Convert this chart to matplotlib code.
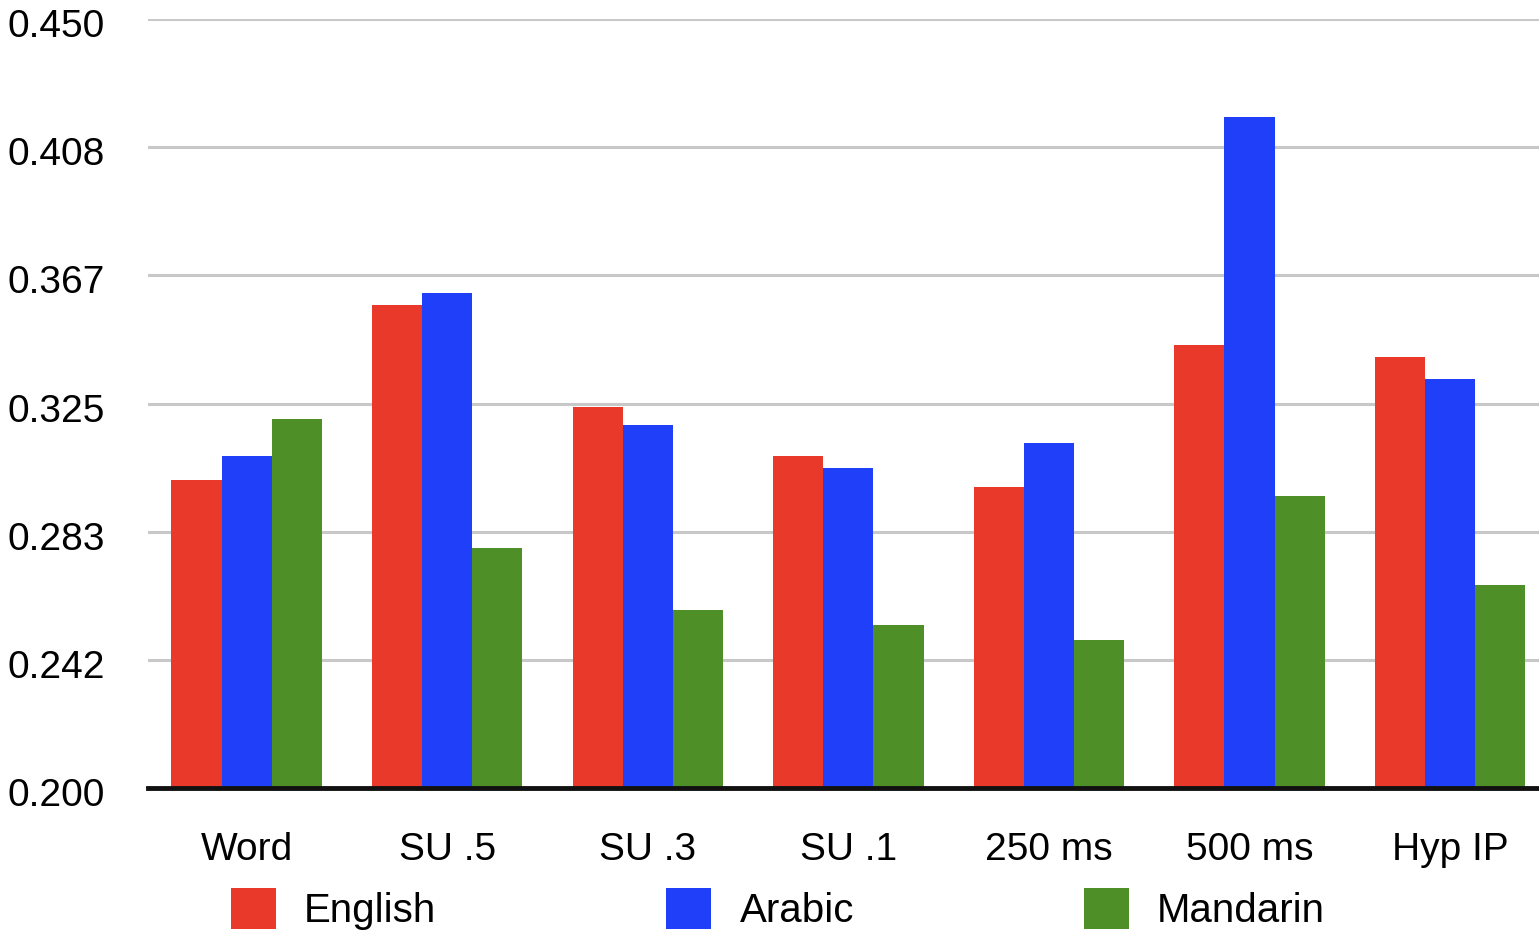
import numpy as np
import matplotlib
matplotlib.use('Agg')
import matplotlib.pyplot as plt
import matplotlib.transforms as mtransforms

categories = ['Word', 'SU .5', 'SU .3', 'SU .1', '250 ms', '500 ms', 'Hyp IP']
english = [0.300, 0.357, 0.324, 0.308, 0.298, 0.344, 0.340]
arabic = [0.308, 0.361, 0.318, 0.304, 0.312, 0.418, 0.333]
mandarin = [0.320, 0.278, 0.258, 0.253, 0.248, 0.295, 0.266]

series = [('English', english, '#e8392a'),
          ('Arabic', arabic, '#1f40f8'),
          ('Mandarin', mandarin, '#4e8f27')]

plt.rcParams['font.family'] = ['Liberation Sans', 'DejaVu Sans']

fig = plt.figure(figsize=(15.39, 9.34), dpi=100)
ax = fig.add_axes([148 / 1539, 1 - 788 / 934, 1 - 148 / 1539, (788 - 19) / 934])

x = np.arange(len(categories))
width = 0.25
handles = []
for i, (name, vals, color) in enumerate(series):
    h = ax.bar(x + (i - 1) * width, vals, width, color=color, label=name, zorder=2)
    handles.append(h)

ticks = np.linspace(0.2, 0.45, 7)
ax.set_ylim(0.2, 0.45)
ax.set_yticks(ticks)
ax.set_yticklabels(['%.3f' % t for t in ticks])
ax.set_xlim(-0.4915, 6.443)
ax.set_xticks(x)
ax.set_xticklabels(categories)

ax.grid(axis='y', color='#c8c8c8', linewidth=2.2, zorder=0)
ax.axhline(0.2, color='#111111', linewidth=3.5, zorder=3, clip_on=False)
for s in ax.spines.values():
    s.set_visible(False)
ax.tick_params(axis='y', length=0, pad=31, labelsize=28)
ax.tick_params(axis='x', length=0, pad=32, labelsize=28)

# nudge y tick labels down a few pixels like the reference
shift = mtransforms.ScaledTranslation(0, -4 / 100, fig.dpi_scale_trans)
for lbl in ax.get_yticklabels():
    lbl.set_transform(lbl.get_transform() + shift)

fig.legend(handles=handles, loc='center', ncol=3, mode='expand',
           bbox_to_anchor=(0.150, 1 - 909 / 934, 0.711, 0),
           frameon=False, fontsize=29, borderpad=0, borderaxespad=0,
           handlelength=1.12, handleheight=1.2, handletextpad=0.7)

fig.savefig('out.png', dpi=100)
